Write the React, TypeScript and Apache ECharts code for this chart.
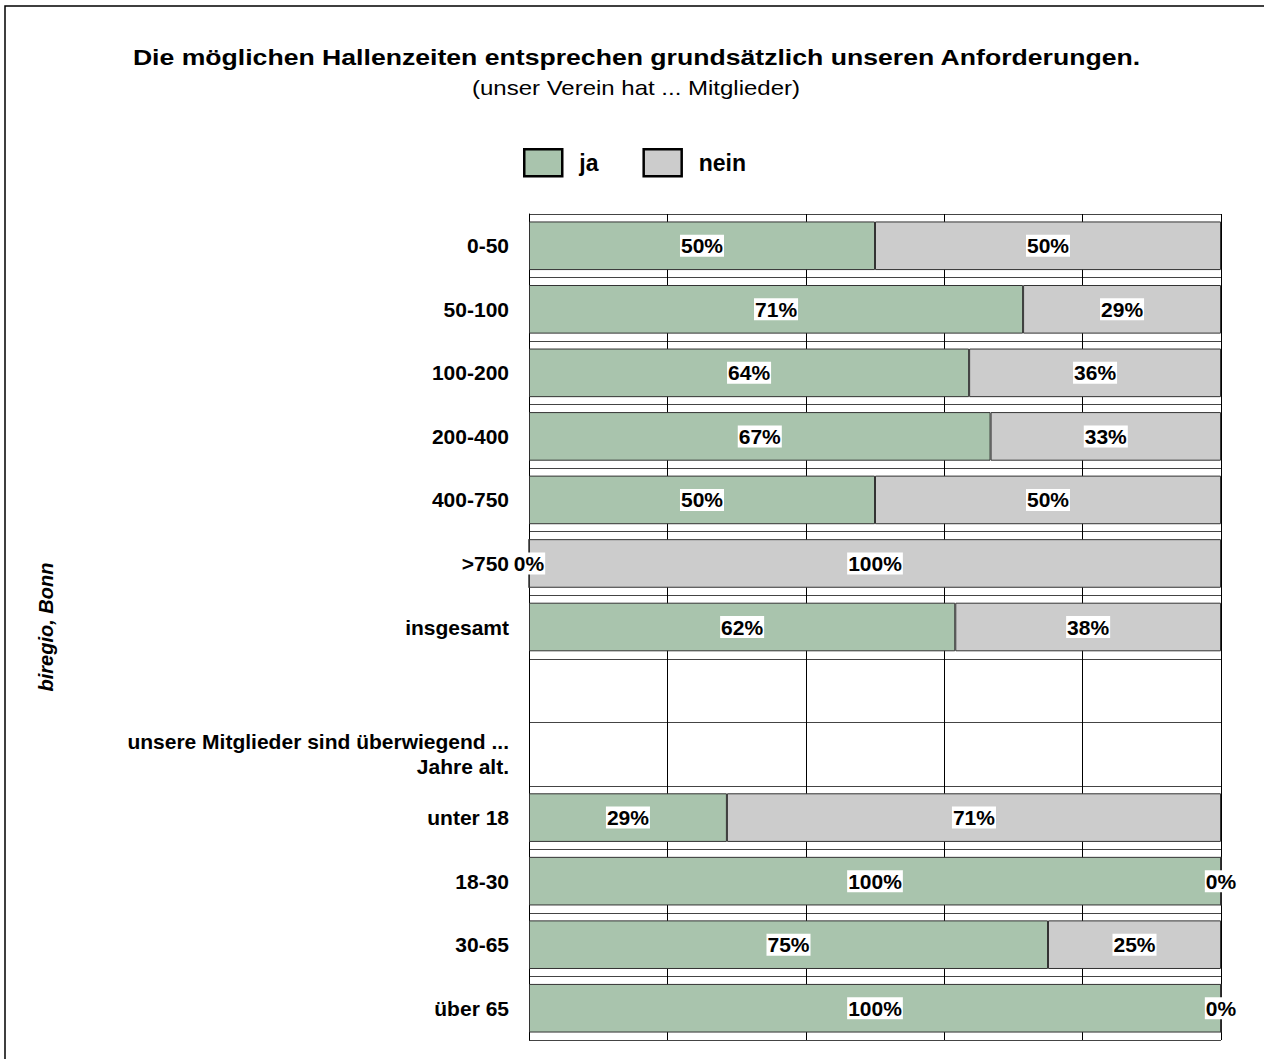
import React, { useEffect, useRef } from "react";
import * as echarts from "echarts";

const categories = [
  "0-50",
  "50-100",
  "100-200",
  "200-400",
  "400-750",
  ">750",
  "insgesamt",
  "",
  "unsere Mitglieder sind überwiegend ...\nJahre alt.",
  "unter 18",
  "18-30",
  "30-65",
  "über 65",
];
const jaValues = [50, 71.4, 63.6, 66.7, 50, 0, 61.6, null, null, 28.6, 100, 75, 100];
const neinValues = [50, 28.6, 36.4, 33.3, 50, 100, 38.4, null, null, 71.4, 0, 25, 0];
const seriesNames = ["ja", "nein"];
const titleText = "Die möglichen Hallenzeiten entsprechen grundsätzlich unseren Anforderungen.";
const subtitleText = "(unser Verein hat ... Mitglieder)";
const sourceText = "biregio, Bonn";

const FONT = "'Liberation Sans', Arial, sans-serif";

export default function App() {
  const ref = useRef<HTMLDivElement>(null);
  useEffect(() => {
    if (!ref.current) return;
    const chart = echarts.init(ref.current, null, { renderer: "svg" });
    const label = {
      show: true,
      position: "inside",
      formatter: (p: any) => (p.value == null ? "" : Math.round(p.value) + "%"),
      fontFamily: FONT,
      fontWeight: "bold",
      fontSize: 21,
      color: "#000",
      backgroundColor: "#fff",
      padding: [1, 1, 0, 1],
    };
    chart.setOption({
      animation: false,
      backgroundColor: "#fff",
      textStyle: { fontFamily: FONT },
      graphic: [
        {
          type: "rect",
          shape: { x: 5, y: 6, width: 1300, height: 1100 },
          style: { fill: "none", stroke: "#000", lineWidth: 1.5 },
          silent: true,
        },
        {
          type: "text",
          x: 636.5,
          y: 57,
          scaleX: 1.21,
          style: {
            text: titleText,
            fontFamily: FONT,
            fontWeight: "bold",
            fontSize: 22,
            fill: "#000",
            align: "center",
            verticalAlign: "middle",
          },
        },
        {
          type: "text",
          x: 636,
          y: 88,
          scaleX: 1.2,
          style: {
            text: subtitleText,
            fontFamily: FONT,
            fontSize: 20,
            fill: "#000",
            align: "center",
            verticalAlign: "middle",
          },
        },
        {
          type: "text",
          x: 46,
          y: 627,
          rotation: Math.PI / 2,
          style: {
            text: sourceText,
            fontFamily: FONT,
            fontWeight: "bold",
            fontStyle: "italic",
            fontSize: 20,
            fill: "#000",
            align: "center",
            verticalAlign: "middle",
          },
        },
      ],
      legend: {
        data: seriesNames,
        left: 523,
        top: 148,
        padding: 0,
        itemWidth: 38,
        itemHeight: 27,
        itemGap: 44,
        icon: "rect",
        itemStyle: { borderColor: "#000", borderWidth: 2.5 },
        textStyle: {
          fontFamily: FONT,
          fontWeight: "bold",
          fontSize: 23,
          color: "#000",
          padding: [0, 0, 0, 12],
        },
      },
      grid: { left: 529, right: 43, top: 214, bottom: 19, containLabel: false },
      xAxis: {
        type: "value",
        min: 0,
        max: 100,
        interval: 20,
        axisLabel: { show: false },
        axisLine: { show: false },
        axisTick: { show: false },
        splitLine: { show: true, lineStyle: { color: "#000", width: 1 } },
      },
      yAxis: {
        type: "category",
        data: categories,
        inverse: true,
        axisLine: { show: true, lineStyle: { color: "#000", width: 1 } },
        axisTick: { show: false },
        axisLabel: {
          fontFamily: FONT,
          fontWeight: "bold",
          fontSize: 21,
          color: "#000",
          margin: 20,
          lineHeight: 25,
          align: "right",
          interval: 0,
        },
        splitLine: { show: true, lineStyle: { color: "#444", width: 1 } },
      },
      series: [
        {
          name: "ja",
          type: "bar",
          stack: "total",
          data: jaValues,
          barCategoryGap: "23.5%",
          itemStyle: { color: "#a9c4ad", borderColor: "#333", borderWidth: 1 },
          label,
        },
        {
          name: "nein",
          type: "bar",
          stack: "total",
          data: neinValues,
          barCategoryGap: "23.5%",
          itemStyle: { color: "#cccccc", borderColor: "#333", borderWidth: 1 },
          label,
        },
      ],
    });
    return () => chart.dispose();
  }, []);
  return (
    <div
      ref={ref}
      style={{ position: "fixed", left: 0, top: 0, width: 1264, height: 1059 }}
    />
  );
}
